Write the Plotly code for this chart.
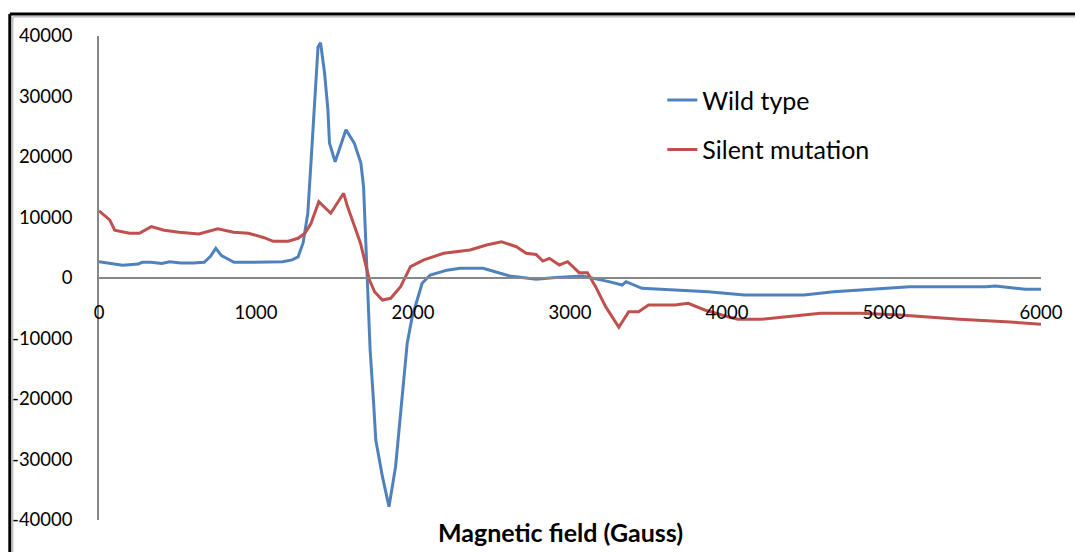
import plotly.graph_objects as go

# Wild type (blue) readings: field (G) and signal
wt_x = [0, 60, 150, 250, 275, 330, 400, 450, 520, 600, 670, 710, 744, 780, 860, 950, 1050, 1170, 1230, 1268,
        1300, 1330, 1350, 1375, 1395, 1411, 1437, 1458, 1468, 1504, 1542, 1573, 1626, 1668, 1685, 1694, 1706,
        1710, 1727, 1748, 1763, 1805, 1847, 1889, 1931, 1963, 1995, 2058, 2110, 2216, 2300, 2447, 2616, 2784,
        2911, 3080, 3248, 3332, 3357, 3458, 3669, 3880, 4111, 4490, 4679, 4890, 5164, 5648, 5710, 5901, 6000]
wt_y = [2700, 2500, 2100, 2300, 2600, 2600, 2400, 2700, 2500, 2500, 2600, 3600, 4900, 3700, 2600, 2600, 2600, 2700, 3000, 3500,
        5800, 10700, 19000, 29400, 38200, 38900, 33800, 27800, 22300, 19200, 22300, 24500, 22300, 19000, 15100, 9600, -330,
        -1500, -11900, -20200, -26800, -32800, -37800, -31200, -20200, -10800, -6400, -880, 500, 1300, 1600, 1600, 330, -220,
        100, 330, -600, -1160, -600, -1700, -2000, -2260, -2800, -2800, -2260, -1870, -1430, -1430, -1320, -1870, -1870]

# Silent mutation (red) readings
sm_x = [0, 68, 100, 194, 257, 333, 415, 510, 636, 756, 857, 952, 1047, 1110, 1205, 1268, 1312, 1350, 1400, 1476,
        1558, 1583, 1628, 1666, 1691, 1723, 1755, 1805, 1858, 1921, 1984, 2069, 2195, 2363, 2468, 2563, 2658, 2721,
        2784, 2827, 2869, 2932, 2985, 3058, 3111, 3163, 3227, 3311, 3374, 3437, 3500, 3669, 3753, 3858, 4006, 4069,
        4216, 4596, 4848, 5101, 5480, 5775, 6000]
sm_y = [11100, 9600, 7900, 7400, 7400, 8500, 7900, 7550, 7270, 8150, 7550, 7400, 6700, 6070, 6070, 6560, 7400, 9000, 12600, 10700,
        14000, 11800, 8500, 5700, 3000, -330, -2260, -3640, -3360, -1430, 1870, 3000, 4080, 4630, 5450, 6000, 5170, 4080,
        3900, 2800, 3250, 2150, 2700, 880, 880, -1430, -4740, -8150, -5570, -5570, -4460, -4460, -4180, -5290, -6400, -6830,
        -6830, -5840, -5840, -6120, -6830, -7220, -7650]

x_ticks = [0, 1000, 2000, 3000, 4000, 5000, 6000]
x_ticktext = ["0", "1000", "2000", "3000", "4000", "5000", "6000"]
y_ticks = [40000, 30000, 20000, 10000, 0, -10000, -20000, -30000, -40000]
y_ticktext = ["40000", "30000", "20000", "10000", "0", "-10000", "-20000", "-30000", "-40000"]
x_title = "Magnetic field (Gauss)"
series_names = ["Wild type", "Silent mutation"]

FONT = "Lato"

fig = go.Figure()
fig.add_trace(go.Scatter(x=wt_x, y=wt_y, mode="lines", name=series_names[0], legendgroup="a",
                         line=dict(color="#4F81BD", width=3)))
fig.add_trace(go.Scatter(x=sm_x, y=sm_y, mode="lines", name=series_names[1], legendgroup="b",
                         line=dict(color="#C0504D", width=3)))

fig.update_layout(
    width=1075, height=552,
    margin=dict(l=99, r=26, t=36, b=32),
    paper_bgcolor="white", plot_bgcolor="white",
    font=dict(family=FONT, size=18, color="black"),
    showlegend=True,
    legend=dict(x=0.598, y=0.915, xanchor="left", yanchor="top", bgcolor="rgba(0,0,0,0)",
                font=dict(size=25, family=FONT), tracegroupgap=14, itemwidth=30),
    xaxis=dict(range=[0, 6000], tickvals=x_ticks, ticktext=x_ticktext, showgrid=False, zeroline=False,
               showline=True, linecolor="#878787", linewidth=1.5, anchor="free", position=0.5,
               ticks="", ticklabelstandoff=18, tickfont=dict(size=18.5, family=FONT)),
    yaxis=dict(range=[-40000, 40000], tickvals=y_ticks, ticktext=y_ticktext, showgrid=False, zeroline=False,
               showline=True, linecolor="#878787", linewidth=1.5, ticks="",
               ticklabelstandoff=21, tickfont=dict(size=18.5, family=FONT)),
    annotations=[dict(text="<b>" + x_title + "</b>", xref="paper", yref="paper", x=0.49, y=-0.025,
                      xanchor="center", yanchor="middle", showarrow=False,
                      font=dict(size=25, family=FONT, color="black"))],
    shapes=[
        dict(type="line", xref="paper", yref="paper", x0=-0.0947, x1=1.1, y0=1.0455, y1=1.0455,
             line=dict(color="black", width=3)),
        dict(type="line", xref="paper", yref="paper", x0=-0.0947, x1=-0.0947, y0=1.0455, y1=-0.2,
             line=dict(color="black", width=3)),
        dict(type="line", xref="paper", yref="paper", x0=-0.0915, x1=1.1, y0=1.0395, y1=1.0395,
             line=dict(color="#A0A0A0", width=1)),
        dict(type="line", xref="paper", yref="paper", x0=-0.0915, x1=-0.0915, y0=1.0395, y1=-0.2,
             line=dict(color="#A0A0A0", width=1)),
    ],
)

fig.write_html("out.html")
